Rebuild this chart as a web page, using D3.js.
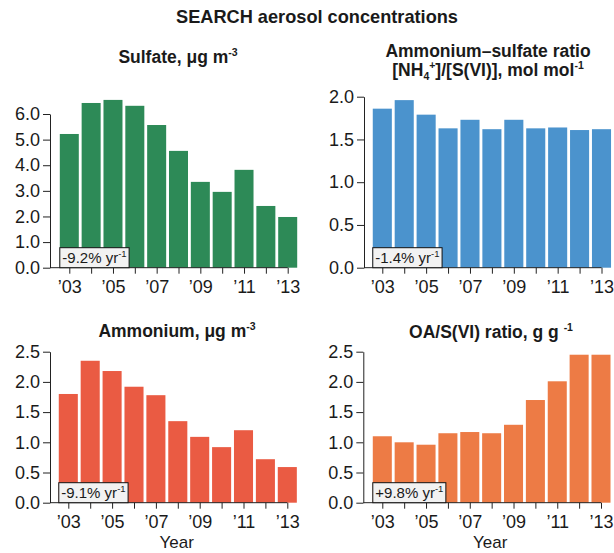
<!DOCTYPE html>
<html>
<head>
<meta charset="utf-8">
<script src="https://cdn.jsdelivr.net/npm/d3@7"></script>
<style>
  body { margin: 0; background: #fff; }
  svg { display: block; font-family: "Liberation Sans", Arial, Helvetica, sans-serif; }
</style>
</head>
<body>
<div id="chart"></div>
<script>
// values
const years = [2003, 2004, 2005, 2006, 2007, 2008, 2009, 2010, 2011, 2012, 2013];
const sulfate = [5.22, 6.43, 6.55, 6.32, 5.57, 4.56, 3.35, 2.96, 3.82, 2.41, 1.98];
const nhRatio = [1.86, 1.96, 1.79, 1.63, 1.73, 1.62, 1.73, 1.63, 1.64, 1.61, 1.62];
const ammonium = [1.80, 2.35, 2.18, 1.92, 1.78, 1.35, 1.09, 0.92, 1.20, 0.72, 0.59];
const oaRatio = [1.10, 1.00, 0.96, 1.15, 1.17, 1.15, 1.29, 1.70, 2.01, 2.45, 2.45];
const trends = ["-9.2%", "-1.4%", "-9.1%", "+9.8%"];
const sulfateTicks = [0, 1, 2, 3, 4, 5, 6];
const ratioTicks = [0, 0.5, 1, 1.5, 2];
const smallTicks = [0, 0.5, 1, 1.5, 2, 2.5];
const labelYears = [2003, 2005, 2007, 2009, 2011, 2013];

const width = 614, height = 553;
const txt = "#1a1a1a";

const svg = d3.select("#chart").append("svg")
  .attr("width", width)
  .attr("height", height);

svg.append("text")
  .attr("x", 317).attr("y", 23)
  .attr("text-anchor", "middle")
  .attr("font-weight", "bold")
  .attr("font-size", 18.2)
  .attr("fill", txt)
  .text("SEARCH aerosol concentrations");

// panel layout: y-axis position, first/last tick centers, baseline, top tick pixel
const panels = [
  {values: sulfate, ticks: sulfateTicks, color: "#2d8a57", trend: trends[0],
   ax: 50, x0: 69.3, x1: 287.7, y0: 267.7, yTop: 114, xlab: false},
  {values: nhRatio, ticks: ratioTicks, color: "#4b93cd", trend: trends[1],
   ax: 364, x0: 382.3, x1: 601.5, y0: 267.7, yTop: 96.7, xlab: false},
  {values: ammonium, ticks: smallTicks, color: "#ea5b43", trend: trends[2],
   ax: 50, x0: 68.3, x1: 287.3, y0: 502.7, yTop: 351.7, xlab: true},
  {values: oaRatio, ticks: smallTicks, color: "#ed7b45", trend: trends[3],
   ax: 363.3, x0: 382.3, x1: 601, y0: 502.7, yTop: 351.7, xlab: true}
];

panels.forEach(p => {
  const g = svg.append("g");
  const step = (p.x1 - p.x0) / (years.length - 1);

  const x = d3.scaleBand()
    .domain(years)
    .range([p.x0 - step / 2, p.x1 + step / 2])
    .paddingInner(0.13)
    .paddingOuter(0.065);

  const xl = d3.scaleLinear()
    .domain([years[0], years[years.length - 1]])
    .range([p.x0, p.x1]);

  const y = d3.scaleLinear()
    .domain([0, d3.max(p.ticks)])
    .range([p.y0, p.yTop]);

  g.append("g")
    .selectAll("rect")
    .data(years)
    .join("rect")
    .attr("x", d => x(d))
    .attr("y", (d, i) => y(p.values[i]))
    .attr("width", x.bandwidth())
    .attr("height", (d, i) => y(0) - y(p.values[i]))
    .attr("fill", p.color);

  // y axis
  const ya = g.append("g")
    .attr("transform", `translate(${p.ax},0)`)
    .call(d3.axisLeft(y).tickValues(p.ticks).tickFormat(d3.format(".1f"))
      .tickSize(7).tickSizeOuter(0).tickPadding(3));
  ya.selectAll("text").attr("font-size", 18).attr("fill", txt);

  // x axis
  const xa = g.append("g")
    .attr("transform", `translate(0,${p.y0})`)
    .call(d3.axisBottom(xl).tickValues(years)
      .tickFormat(d => labelYears.includes(d) ? "\u2019" + String(d).slice(2) : "")
      .tickSize(6).tickSizeOuter(0).tickPadding(7));
  xa.select(".domain").remove();
  xa.append("line")
    .attr("x1", p.ax).attr("x2", xl(years[years.length - 1]))
    .attr("stroke", "#000");
  xa.selectAll("text").attr("font-size", 18).attr("fill", txt);

  [ya, xa].forEach(a => a.selectAll("path, line").attr("stroke", "#222"));

  // trend box
  const bx = x(years[0]);
  const box = g.append("g");
  const rect = box.append("rect")
    .attr("fill", "#f2f2f2")
    .attr("stroke", "#111")
    .attr("stroke-width", 1);
  const t = box.append("text")
    .attr("x", bx + 2.5)
    .attr("y", p.y0 - 4.5)
    .attr("font-size", 15)
    .attr("fill", txt);
  t.append("tspan").text(p.trend + " yr");
  t.append("tspan").attr("font-size", 9.5).attr("dy", -6).text("-1");
  const bb = t.node().getBBox();
  rect.attr("x", bx).attr("y", p.y0 - 20)
    .attr("width", bb.width + 5).attr("height", 20);

  if (p.xlab) {
    g.append("text")
      .attr("x", (p.ax + p.x1) / 2 + 8)
      .attr("y", 548)
      .attr("text-anchor", "middle")
      .attr("font-size", 17)
      .attr("fill", txt)
      .text("Year");
  }
});

// panel titles
function title(x, yy, parts) {
  const t = svg.append("text")
    .attr("x", x).attr("y", yy)
    .attr("text-anchor", "middle")
    .attr("font-weight", "bold")
    .attr("font-size", 17.5)
    .attr("fill", txt);
  let shift = 0;
  parts.forEach(([s, k]) => {
    const ts = t.append("tspan").text(s);
    let target = k === "sup" ? -7 : k === "sub" ? 4 : 0;
    if (k) ts.attr("font-size", 10.5);
    ts.attr("dy", target - shift);
    shift = target;
  });
  return t;
}

title(178, 63, [["Sulfate, \u03bcg m"], ["-3", "sup"]]);
title(488, 56.5, [["Ammonium\u2013sulfate ratio"]]);
title(488, 76, [["[NH"], ["4", "sub"], ["+", "sup"], ["]/[S(VI)], mol mol"], ["-1", "sup"]]);
title(177, 337, [["Ammonium, \u03bcg m"], ["-3", "sup"]]);
title(491, 338, [["OA/S(VI) ratio, g g "], ["-1", "sup"]]);
</script>
</body>
</html>
